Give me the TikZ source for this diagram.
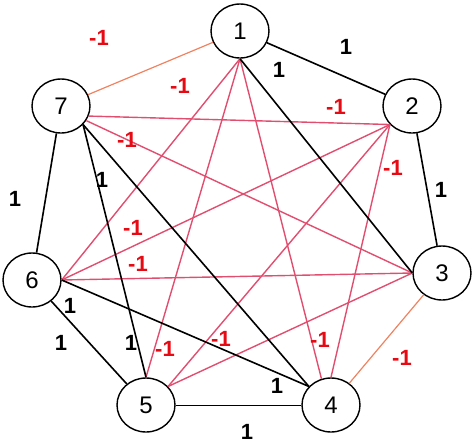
\documentclass[tikz,border=0pt]{standalone}
\usepackage{fontspec}
\setmainfont{Liberation Sans}
\usetikzlibrary{shapes.geometric}
\definecolor{pinkline}{RGB}{226,78,112}
\definecolor{orangeline}{RGB}{240,130,95}
\definecolor{labred}{RGB}{230,10,20}
\tikzset{
  vert/.style={draw=black, line width=1.4pt, ellipse, minimum width=58pt, minimum height=54pt, inner sep=0pt, font=\fontsize{24}{24}\selectfont},
  posedge/.style={draw=black, line width=1.6pt},
  posthin/.style={draw=black, line width=1.0pt},
  negedge/.style={draw=pinkline, line width=1.4pt},
  negor/.style={draw=orangeline, line width=1.2pt},
  plab/.style={font=\bfseries\fontsize{22}{22}\selectfont, text=black, inner sep=0pt},
  nlab/.style={font=\bfseries\fontsize{22}{22}\selectfont, text=labred, inner sep=0pt}
}
\begin{document}
\begin{tikzpicture}[x=1pt,y=-1pt]
\useasboundingbox (0,0) rectangle (474,445);
\node[vert] (n1) at (240,31) {1};
\node[vert] (n2) at (412,106) {2};
\node[vert] (n3) at (442,273) {3};
\node[vert] (n4) at (331,405) {4};
\node[vert] (n5) at (146,405) {5};
\node[vert] (n6) at (32,280) {6};
\node[vert] (n7) at (61,106) {7};
% pink edges
\draw[negedge] (n1.south) -- (n6.east);
\draw[negedge] (n1.south) -- (n5.north);
\draw[negedge] (n1.south) -- (n4.110);
\draw[negedge] (n2.-140) -- (n7.-20);
\draw[negedge] (n2.-140) -- (n6.east);
\draw[negedge] (n2.-140) -- (n5.40);
\draw[negedge] (n2.-140) -- (n4.north);
\draw[negedge] (n3.west) -- (n7.-30);
\draw[negedge] (n3.west) -- (n6.east);
\draw[negedge] (n3.west) -- (n5.40);
% orange edges
\draw[negor] (n7) -- (n1);
\draw[negor] (n3) -- (n4);
% black edges
\draw[posedge] (n1) -- (n2);
\draw[posedge] (n1.south) -- (n3.west);
\draw[posedge] (n2) -- (n3);
\draw[posedge] (n7) -- (n6);
\draw[posedge] (n7.-40) -- (n5.north);
\draw[posedge] (n7.-40) -- (n4.140);
\draw[posedge] (n6) -- (n5);
\draw[posedge] (n6.east) -- (n4.140);
\draw[posthin] (n5) -- (n4);
% labels
\node[nlab] (l17) at (99,38) {-1};
\node[plab] (l12) at (346,47) {1};
\node[plab] (l13) at (279,70) {1};
\node[nlab] (l15) at (180,86) {-1};
\node[nlab] (l27) at (336,107) {-1};
\node[nlab] (l37) at (127,140) {-1};
\node[nlab] (l24) at (393,168) {-1};
\node[plab] (l23) at (441,190) {1};
\node[plab] (l76) at (15,199) {1};
\node[plab] (l75) at (102,180) {1};
\node[nlab] (l16) at (133,228) {-1};
\node[nlab] (l26) at (138,264) {-1};
\node[plab] (l64) at (70,306) {1};
\node[plab] (l65) at (61,343) {1};
\node[plab] (l57) at (131,343) {1};
\node[nlab] (l51) at (165,349) {-1};
\node[nlab] (l52) at (221,339) {-1};
\node[nlab] (l41) at (320,340) {-1};
\node[nlab] (l34) at (402,358) {-1};
\node[plab] (l47) at (277,386) {1};
\node[plab] (l54) at (247,432) {1};
\end{tikzpicture}
\end{document}
